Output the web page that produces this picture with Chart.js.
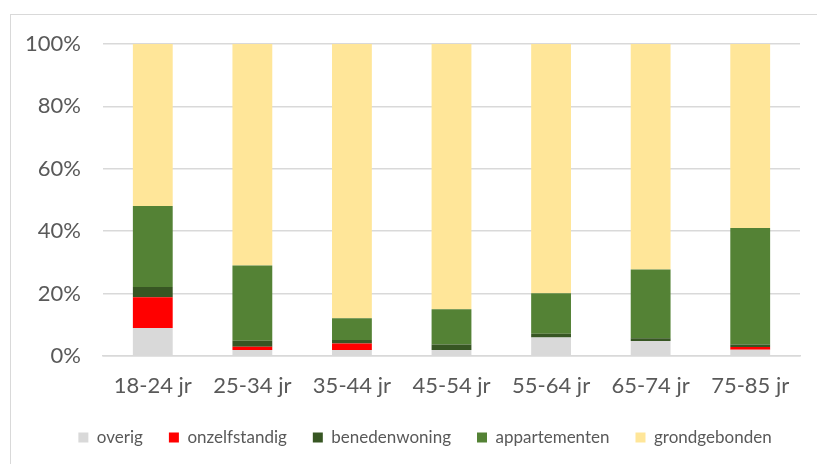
<!DOCTYPE html>
<html>
<head>
<meta charset="utf-8">
<script src="https://cdn.jsdelivr.net/npm/chart.js@4.4.1/dist/chart.umd.min.js"></script>
<style>
    html, body { margin: 0; padding: 0; background: #ffffff; }
    #wrap { position: relative; width: 817px; height: 464px; overflow: hidden; }
    #frame { position: absolute; left: 10px; top: 14px; width: 900px; height: 500px; border: 1px solid #d9d9d9; box-sizing: border-box; }
    canvas { position: absolute; left: 0; top: 0; }
</style>
</head>
<body>
<div id="wrap">
    <div id="frame"></div>
    <canvas id="woningChart" width="817" height="464"></canvas>
</div>
<script>
// Leeftijdsklassen en aandeel per woningtype (%)
const ageGroups = ['18-24 jr', '25-34 jr', '35-44 jr', '45-54 jr', '55-64 jr', '65-74 jr', '75-85 jr'];
const overig = [9.0, 1.9, 1.9, 1.9, 5.9, 4.8, 2.0];
const onzelfstandig = [9.8, 1.1, 2.1, 0.0, 0.0, 0.0, 0.9];
const benedenwoning = [3.3, 1.9, 1.1, 1.8, 1.2, 0.9, 0.8];
const appartementen = [26.0, 24.1, 7.0, 11.3, 13.0, 22.0, 37.3];
const grondgebonden = [51.9, 71.0, 87.9, 85.0, 79.9, 72.3, 59.0];
const yTicks = [0, 20, 40, 60, 80, 100];

const fontFamily = 'Lato, "Open Sans", sans-serif';
const textColor = '#595959';
const gridColor = '#d9d9d9';

function series(label, data, color) {
    return {
        label: label,
        data: data,
        backgroundColor: color,
        borderWidth: 0,
        barPercentage: 0.4,
        categoryPercentage: 1.0
    };
}

// centre the legend under the plot area instead of the whole canvas
const legendShift = {
    id: 'legendShift',
    afterLayout: function(chart) {
        if (chart.legend) {
            chart.legend.left += 30;
        }
    }
};

const ctx = document.getElementById('woningChart');
new Chart(ctx, {
    type: 'bar',
    data: {
        labels: ageGroups,
        datasets: [
            series('overig', overig, '#d9d9d9'),
            series('onzelfstandig', onzelfstandig, '#ff0000'),
            series('benedenwoning', benedenwoning, '#375623'),
            series('appartementen', appartementen, '#548235'),
            series('grondgebonden', grondgebonden, '#ffe699')
        ]
    },
    options: {
        responsive: false,
        animation: false,
        layout: {
            padding: { left: 20, right: 17, top: 44, bottom: 8 }
        },
        plugins: {
            tooltip: { enabled: false },
            legend: {
                position: 'bottom',
                labels: {
                    boxWidth: 10,
                    boxHeight: 10,
                    padding: 26,
                    color: textColor,
                    font: { family: fontFamily, size: 17 }
                }
            }
        },
        scales: {
            x: {
                stacked: true,
                grid: { display: false },
                border: { color: gridColor, width: 1.5 },
                ticks: {
                    color: textColor,
                    padding: 9,
                    font: { family: fontFamily, size: 22 }
                },
                afterFit: function(scale) { scale.height = 47; }
            },
            y: {
                stacked: true,
                min: 0,
                max: 100,
                afterBuildTicks: function(scale) {
                    scale.ticks = yTicks.map(v => ({ value: v }));
                },
                afterFit: function(scale) { scale.width = 83; },
                grid: { color: gridColor, lineWidth: 1.5, drawTicks: false },
                border: { display: false },
                ticks: {
                    color: textColor,
                    padding: 22,
                    font: { family: fontFamily, size: 22 },
                    callback: function(value) { return value + '%'; }
                }
            }
        }
    },
    plugins: [legendShift]
});
</script>
</body>
</html>
